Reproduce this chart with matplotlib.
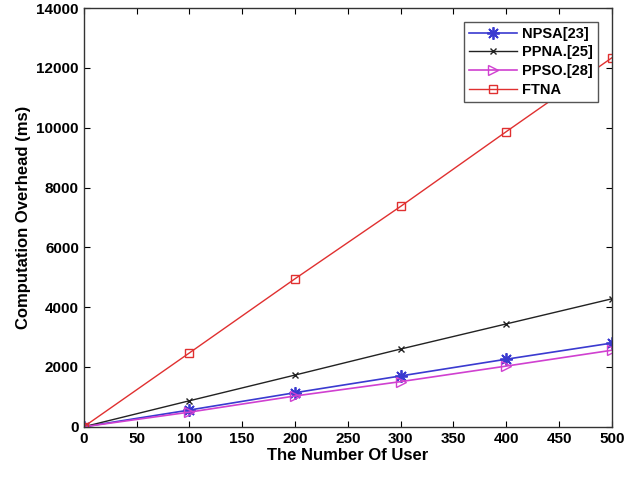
import matplotlib
matplotlib.use("Agg")
import matplotlib.pyplot as plt

users = [0, 100, 200, 300, 400, 500]
npsa = [0, 560, 1140, 1700, 2260, 2800]
ppna = [0, 870, 1730, 2600, 3440, 4280]
ppso = [0, 490, 1030, 1510, 2030, 2560]
ftna = [0, 2470, 4950, 7370, 9870, 12340]
labels = ["NPSA[23]", "PPNA.[25]", "PPSO.[28]", "FTNA"]
xticks = [0, 50, 100, 150, 200, 250, 300, 350, 400, 450, 500]
yticks = [0, 2000, 4000, 6000, 8000, 10000, 12000, 14000]

plt.rcParams['font.family'] = ['Liberation Sans', 'DejaVu Sans']
plt.rcParams['font.weight'] = 'bold'

fig = plt.figure(figsize=(6.25, 4.79), dpi=100)
ax = fig.add_axes([0.134, 0.109, 0.845, 0.874])

ax.plot(users, npsa, color='#3a3ad0', marker=(8, 2, 0), markersize=9, mew=1.3, lw=1.2, label=labels[0])
ax.plot(users, ppna, color='#222222', marker='x', markersize=5, lw=1.0, label=labels[1])
ax.plot(users, ppso, color='#d040d0', marker='>', markersize=7, mfc='none', lw=1.2, label=labels[2])
ax.plot(users, ftna, color='#e03030', marker='s', markersize=6, mfc='none', lw=1.0, label=labels[3])

ax.set_xlim(0, 500)
ax.set_ylim(0, 14000)
ax.set_xticks(xticks)
ax.set_yticks(yticks)
ax.tick_params(direction='in', labelsize=11, top=True, right=True, length=4)
for lab in ax.get_xticklabels() + ax.get_yticklabels():
    lab.set_fontweight('bold')
ax.set_xlabel("The Number Of User", fontsize=12, fontweight='bold', labelpad=2)
ax.set_ylabel("Computation Overhead (ms)", fontsize=12, fontweight='bold', labelpad=4)
for s in ax.spines.values():
    s.set_color('#333333')
    s.set_linewidth(1.0)

leg = ax.legend(loc='upper right', bbox_to_anchor=(0.973, 0.968), fontsize=10.5, frameon=True,
                fancybox=False, edgecolor='#555555', framealpha=1, borderpad=0.35, labelspacing=0.32,
                handlelength=3.3, handletextpad=0.3, borderaxespad=0)
for t in leg.get_texts():
    t.set_fontweight('bold')

fig.savefig("out.png", dpi=100)
